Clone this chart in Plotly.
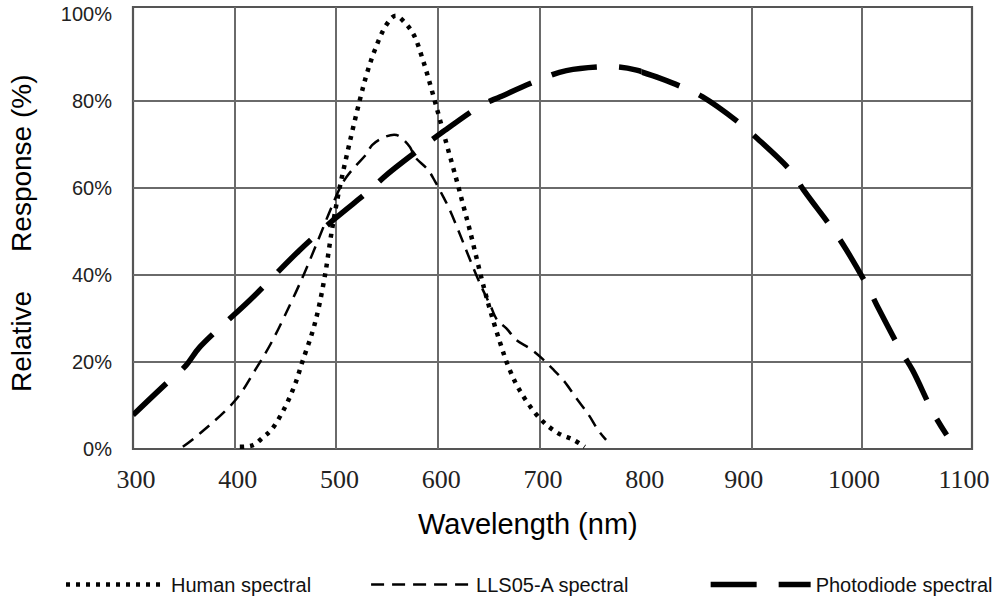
import plotly.graph_objects as go

# ---- data (wavelength in nm, relative response in %) ----
human_nm = [405, 418, 428, 436, 449, 459, 467, 476, 482, 489, 495, 502, 512, 523, 530,
            538, 549, 558, 568, 576, 585, 595, 608, 618, 625, 631, 643, 651, 661, 669,
            680, 700, 718, 733, 744]
human_pct = [0.5, 0.9, 2.7, 4.4, 9.4, 14.7, 20.4, 26.6, 31.9, 40.3, 49.5, 58.7, 69.4, 80.2, 86.3,
             91.8, 97.4, 99.5, 97.7, 95.1, 89.3, 81.3, 70.2, 61.8, 55.6, 50.3, 38.8, 31.9, 24.3, 18.9,
             13.5, 7.0, 3.6, 2.1, 0.5]

lls_nm = [349, 366, 401, 420, 435, 449, 467, 482, 494, 504, 510, 518, 530, 535, 548, 559,
          572, 577, 590, 597, 605, 610, 621, 630, 641, 651, 658, 667, 677, 690, 702, 712,
          723, 736, 748, 757, 765]
lls_pct = [0.5, 3.6, 11.3, 18.1, 24.0, 30.5, 39.6, 48.0, 54.9, 60.2, 62.5, 64.8, 67.9, 69.8, 71.7, 72.1,
           69.4, 67.1, 64.1, 61.4, 57.9, 55.6, 49.5, 44.2, 38.0, 33.1, 29.6, 27.7, 25.0, 23.1, 20.8, 18.5,
           15.8, 11.6, 7.8, 4.4, 2.1]

photo_nm = [300, 333, 351, 366, 415, 464, 497, 533, 549, 587, 605, 643, 661, 707, 726, 772,
            795, 817, 836, 855, 889, 905, 936, 947, 974, 985, 1006, 1015, 1036, 1046, 1065, 1077]
photo_pct = [7.8, 15.1, 18.9, 23.5, 34.2, 45.7, 52.6, 59.5, 62.9, 69.8, 72.9, 79.0, 80.9, 85.5, 86.9, 87.8,
             87.0, 85.1, 83.2, 80.9, 74.8, 71.3, 63.7, 59.5, 50.3, 46.1, 36.9, 32.3, 22.3, 18.1, 8.2, 3.2]

x_ticks_left = [300, 400, 500, 600, 700, 800]
x_ticks_right = [900, 1000, 1100]
y_ticks = [0, 20, 40, 60, 80, 100]
y_tick_text = ["\u2007\u20070%", "\u200720%", "\u200740%", "\u200760%", "\u200780%", "100%"]
y_grid = [20, 40, 60, 80]

series_names = ["Human spectral", "LLS05-A spectral", "Photodiode spectral"]
legend_pad = [9, 13, 0]  # trailing spaces to reproduce the legend spacing

# ---- figure ----
SPLIT = 0.6063  # the reference grid is wider beyond 800 nm
fig = go.Figure()

def label(i):
    return series_names[i] + "\u00a0" * legend_pad[i]

fig.add_trace(go.Scatter(
    x=human_nm, y=human_pct, mode="lines", name=label(0),
    line=dict(color="black", width=4.5, dash="4px,6px", shape="spline"),
    xaxis="x", yaxis="y"))
fig.add_trace(go.Scatter(
    x=lls_nm, y=lls_pct, mode="lines", name=label(1),
    line=dict(color="black", width=2.5, dash="13px,8px", shape="spline"),
    xaxis="x", yaxis="y"))

pa = [(a, b) for a, b in zip(photo_nm, photo_pct) if a <= 817]
pb = [(a, b) for a, b in zip(photo_nm, photo_pct) if a >= 795]
pline = dict(color="black", width=5.5, dash="46px,22px", shape="spline")
fig.add_trace(go.Scatter(
    x=[p[0] for p in pa], y=[p[1] for p in pa], mode="lines", name=label(2),
    legendgroup="pd", line=pline, xaxis="x", yaxis="y"))
fig.add_trace(go.Scatter(
    x=[p[0] for p in pb], y=[p[1] for p in pb], mode="lines", name=label(2),
    legendgroup="pd", showlegend=False, line=pline, xaxis="x2", yaxis="y"))

grid_color = "#6a6a6a"
xfont = dict(family="Liberation Serif", size=26, color="#222")
common_x = dict(showgrid=True, gridcolor=grid_color, gridwidth=1.6, zeroline=False,
                showline=False, ticks="", tickfont=xfont, ticklabelstandoff=12,
                fixedrange=True, automargin=False)

fig.update_layout(
    width=996, height=603,
    margin=dict(l=133, r=24, t=7, b=154, autoexpand=False),
    paper_bgcolor="white", plot_bgcolor="white",
    xaxis=dict(domain=[0, SPLIT], range=[300, 800], tickvals=x_ticks_left, anchor="y",
               ticklabelshift=3, **common_x),
    xaxis2=dict(domain=[SPLIT, 1], range=[800, 1100], tickvals=x_ticks_right, anchor="y",
                ticklabelshift=-8, **common_x),
    yaxis=dict(range=[0, 101.5], tickvals=y_ticks, ticktext=y_tick_text, showgrid=False,
               zeroline=False, showline=False, ticks="", automargin=False,
               tickfont=dict(family="Liberation Sans", size=20, color="#222"),
               ticklabelstandoff=20, fixedrange=True,
               minor=dict(tickvals=y_grid, showgrid=True, gridcolor=grid_color, gridwidth=1.6, ticks="")),
    showlegend=True,
    legend=dict(orientation="h", x=-0.0858, y=-0.3063, xanchor="left", yanchor="middle",
                font=dict(family="Liberation Sans", size=20, color="#111"),
                itemwidth=100, bgcolor="rgba(0,0,0,0)"),
    shapes=[dict(type="rect", xref="paper", yref="paper", x0=0, x1=1, y0=0, y1=1,
                 line=dict(color="#555", width=2.2), layer="between")],
    annotations=[
        dict(text="Wavelength (nm)", xref="paper", yref="paper", x=0.4708, y=-0.1707,
             xanchor="center", yanchor="middle", showarrow=False,
             font=dict(family="Liberation Sans", size=29, color="black")),
        dict(text="Relative" + "\u00a0" * 5 + "Response (%)", xref="paper", yref="paper",
             x=-0.1323, y=0.4865, xanchor="center", yanchor="middle", textangle=-90,
             showarrow=False, font=dict(family="Liberation Sans", size=28, color="black")),
    ],
)

post = ("document.documentElement.style.overflow='hidden';"
        "document.body.style.margin='0';document.body.style.overflow='hidden';"
        "var d=document.getElementById('{plot_id}');"
        "d.style.position='absolute';d.style.left='0';d.style.top='0';")
fig.write_html("out.html", post_script=post, config={"displayModeBar": False})
